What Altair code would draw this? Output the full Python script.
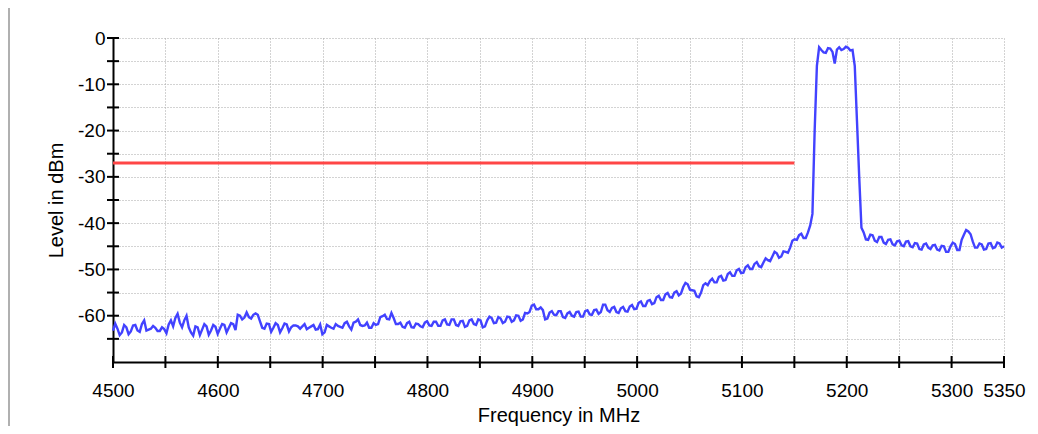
import altair as alt
import pandas as pd

# ---- data ----
# sweep sampled every 2.125 MHz from 4500 MHz; the two lists hold the
# even samples (levels_dbm) and the odd samples in between (levels_mid_dbm)
SWEEP_START_MHZ = 4500
SWEEP_STEP_MHZ = 2.125
levels_dbm = [
    -63.2, -62.8, -63.6, -62.5, -63.4, -62.0, -63.5, -61.0, -63.0, -62.2,
    -63.3, -62.5, -63.8, -61.0, -60.5, -61.5, -61.0, -62.5, -64.3, -62.5,
    -63.0, -62.3, -63.2, -62.4, -62.8, -62.0, -62.6, -61.8, -59.8, -60.8,
    -59.3, -60.6, -59.5, -61.2, -62.8, -61.8, -62.6, -62.0, -62.7, -61.9,
    -62.5, -62.1, -62.8, -61.8, -62.6, -62.0, -62.9, -64.0, -62.0, -62.6,
    -61.8, -62.4, -61.6, -62.3, -61.5, -60.8, -62.2, -61.5, -62.6, -62.0,
    -60.3, -59.8, -60.8, -60.5, -61.8, -62.4, -61.6, -62.5, -61.7, -62.3,
    -61.5, -62.1, -61.3, -62.2, -61.0, -61.9, -60.8, -62.0, -61.2, -62.4,
    -61.0, -61.8, -60.8, -62.5, -61.0, -60.5, -61.5, -60.6, -61.3, -60.3,
    -61.0, -60.0, -60.8, -59.5, -57.8, -58.6, -58.2, -60.8, -59.3, -59.8,
    -59.0, -60.3, -59.5, -60.0, -59.2, -60.2, -59.0, -59.7, -58.8, -59.6,
    -57.6, -58.8, -58.3, -59.2, -58.4, -59.0, -58.0, -58.6, -57.2, -57.9,
    -56.8, -57.5, -56.0, -56.6, -55.4, -56.0, -55.0, -55.6, -53.8, -53.2,
    -54.5, -55.8, -55.0, -53.0, -52.5, -52.8, -51.6, -52.4, -51.0, -51.4,
    -50.2, -50.8, -49.5, -49.9, -48.8, -49.3, -48.5, -48.0, -47.2, -46.5,
    -47.2, -46.2, -45.3, -43.5, -42.6, -43.2, -42.0, -38.0, -6.0, -2.6,
    -3.2, -2.3, -5.5, -2.0, -2.4, -2.1, -2.6, -18.0, -41.0, -43.5,
    -42.5, -43.8, -43.0, -44.2, -43.6, -44.6, -43.9, -44.8, -44.0, -45.0,
    -44.3, -45.6, -44.6, -45.3, -44.8, -45.7, -44.9, -46.2, -45.0, -44.5,
    -45.8, -42.5, -41.8, -44.0, -45.3, -44.6, -45.6, -44.3, -45.2, -44.4,
    -45.0,
]
levels_mid_dbm = [
    -61.7, -64.2, -62.0, -64.0, -62.1, -63.2, -61.8, -63.2, -62.8, -62.6,
    -63.3, -62.9, -61.9, -62.3, -59.6, -62.5, -60.0, -63.6, -62.3, -64.2,
    -61.8, -64.1, -62.0, -63.9, -61.8, -63.6, -61.6, -63.1, -60.0, -60.4,
    -60.3, -59.8, -59.8, -62.6, -61.7, -63.5, -61.6, -63.6, -61.7, -63.4,
    -62.1, -62.3, -62.3, -62.9, -62.3, -63.0, -61.9, -63.6, -62.3, -62.8,
    -62.2, -62.6, -61.3, -63.0, -61.3, -62.0, -62.1, -62.6, -61.6, -61.8,
    -60.1, -60.7, -59.4, -61.8, -61.5, -62.6, -61.3, -62.6, -61.8, -62.5,
    -61.2, -62.2, -61.3, -62.2, -60.8, -62.0, -60.8, -62.2, -61.1, -62.2,
    -60.8, -62.0, -61.0, -62.3, -60.2, -61.6, -60.3, -61.6, -60.2, -61.3,
    -59.9, -61.1, -59.4, -59.2, -57.6, -58.6, -58.8, -60.6, -59.0, -59.9,
    -59.0, -60.5, -59.2, -60.2, -59.1, -60.2, -58.8, -59.8, -58.7, -59.2,
    -57.6, -59.2, -58.1, -59.4, -58.1, -59.1, -57.7, -58.5, -56.9, -57.9,
    -56.6, -57.3, -55.7, -56.6, -55.1, -56.1, -54.7, -55.2, -52.9, -54.4,
    -54.6, -56.0, -53.4, -53.4, -52.0, -52.8, -51.4, -52.3, -50.6, -51.4,
    -49.9, -50.7, -49.1, -49.9, -48.4, -49.5, -47.6, -48.2, -46.2, -47.5,
    -46.1, -46.4, -43.8, -43.6, -42.3, -43.2, -40.5, -20.0, -2.0, -3.1,
    -2.2, -3.0, -2.5, -2.6, -1.9, -2.7, -6.0, -30.0, -42.0, -43.6,
    -42.6, -44.1, -43.0, -44.5, -43.5, -44.8, -43.8, -45.0, -43.9, -45.2,
    -44.4, -45.7, -44.4, -45.6, -44.7, -45.9, -45.0, -46.2, -44.2, -45.8,
    -43.6, -41.5, -42.4, -45.3, -44.4, -45.7, -44.4, -45.4, -44.2, -45.3,
]
levels_all = [v for pair in zip(levels_dbm, levels_mid_dbm) for v in pair] + [levels_dbm[-1]]
freqs_mhz = [SWEEP_START_MHZ + SWEEP_STEP_MHZ * i for i in range(len(levels_all))]

limit_freqs = [4500, 5150]
limit_levels = [-27, -27]

x_tick_values = [4500, 4550, 4600, 4650, 4700, 4750, 4800, 4850, 4900, 4950,
                 5000, 5050, 5100, 5150, 5200, 5250, 5300, 5350]
x_label_values = [4500, 4600, 4700, 4800, 4900, 5000, 5100, 5200, 5300, 5350]
y_tick_values = [-70, -65, -60, -55, -50, -45, -40, -35, -30, -25, -20, -15, -10, -5, 0]
y_label_values = [0, -10, -20, -30, -40, -50, -60]

W, H = 891, 324
FONT = "Liberation Sans"

trace = pd.DataFrame({"freq": freqs_mhz, "level": levels_all})
limit = pd.DataFrame({"freq": limit_freqs, "level": limit_levels})
xt = pd.DataFrame({"freq": x_tick_values})
yt = pd.DataFrame({"level": [v for v in y_tick_values if v > -70]})

xs = alt.Scale(domain=[4500, 5350], nice=False, zero=False)
ys = alt.Scale(domain=[-70, 0], nice=False, zero=False)

x_lab_list = ",".join(str(v) for v in x_label_values)
y_lab_list = ",".join(str(v) for v in y_label_values)

GRID = "#a6a6a6"

xaxis = alt.Axis(
    values=x_tick_values, ticks=False, tickSize=0,
    labelExpr=f"indexof([{x_lab_list}], datum.value) >= 0 ? '' + datum.value : ''",
    labelFlush=False, labelOverlap=False, labelPadding=19,
    labelFont=FONT, labelFontSize=19, labelColor="black",
    domainColor="black", domainWidth=2,
    grid=True, gridColor=GRID, gridDash=[1, 2], gridWidth=1,
    title="Frequency in MHz", titleFont=FONT, titleFontSize=20,
    titleFontWeight="normal", titleColor="black",
    titleBaseline="alphabetic", titleY=59,
)
yaxis = alt.Axis(
    values=y_tick_values, ticks=False, tickSize=0,
    labelExpr=f"indexof([{y_lab_list}], datum.value) >= 0 ? '' + datum.value : ''",
    labelFlush=False, labelOverlap=False, labelPadding=8,
    labelFont=FONT, labelFontSize=19, labelColor="black",
    domainColor="black", domainWidth=2,
    grid=True, gridColor=GRID, gridDash=[1, 2], gridWidth=1,
    title="Level in dBm", titleFont=FONT, titleFontSize=20,
    titleFontWeight="normal", titleColor="black",
    titleBaseline="alphabetic", titleX=-51, titleY=H / 2, titleAngle=270,
)

X = alt.X("freq:Q", scale=xs, axis=xaxis)
Y = alt.Y("level:Q", scale=ys, axis=yaxis)

line = alt.Chart(trace).mark_line(color="#4242ff", strokeWidth=2.4).encode(x=X, y=Y)

red = alt.Chart(limit).mark_line(color="#ff4646", strokeWidth=3).encode(x=X, y=Y)

xticks = alt.Chart(xt).mark_tick(orient="vertical", size=12, thickness=2, color="black", opacity=1).encode(
    x=X, y=alt.value(H),
)
yticks = alt.Chart(yt).mark_tick(orient="horizontal", size=12, thickness=2, color="black", opacity=1).encode(
    y=Y, x=alt.value(0),
)

frame = alt.Chart(pd.DataFrame({"k": [0]})).mark_rule(color="#b0b0b0", strokeWidth=2).encode(
    x=alt.value(-104), y=alt.value(-30), y2=alt.value(H + 64)
)

chart = (
    alt.layer(red, line, xticks, yticks, frame)
    .properties(
        width=W, height=H,
        autosize=alt.AutoSizeParams(type="none"),
        padding={"left": 105, "top": 30, "right": 26, "bottom": 64},
        background="white",
    )
    .configure_view(stroke=None)
)

chart.save("out.html", embed_options={"renderer": "svg", "actions": False})
